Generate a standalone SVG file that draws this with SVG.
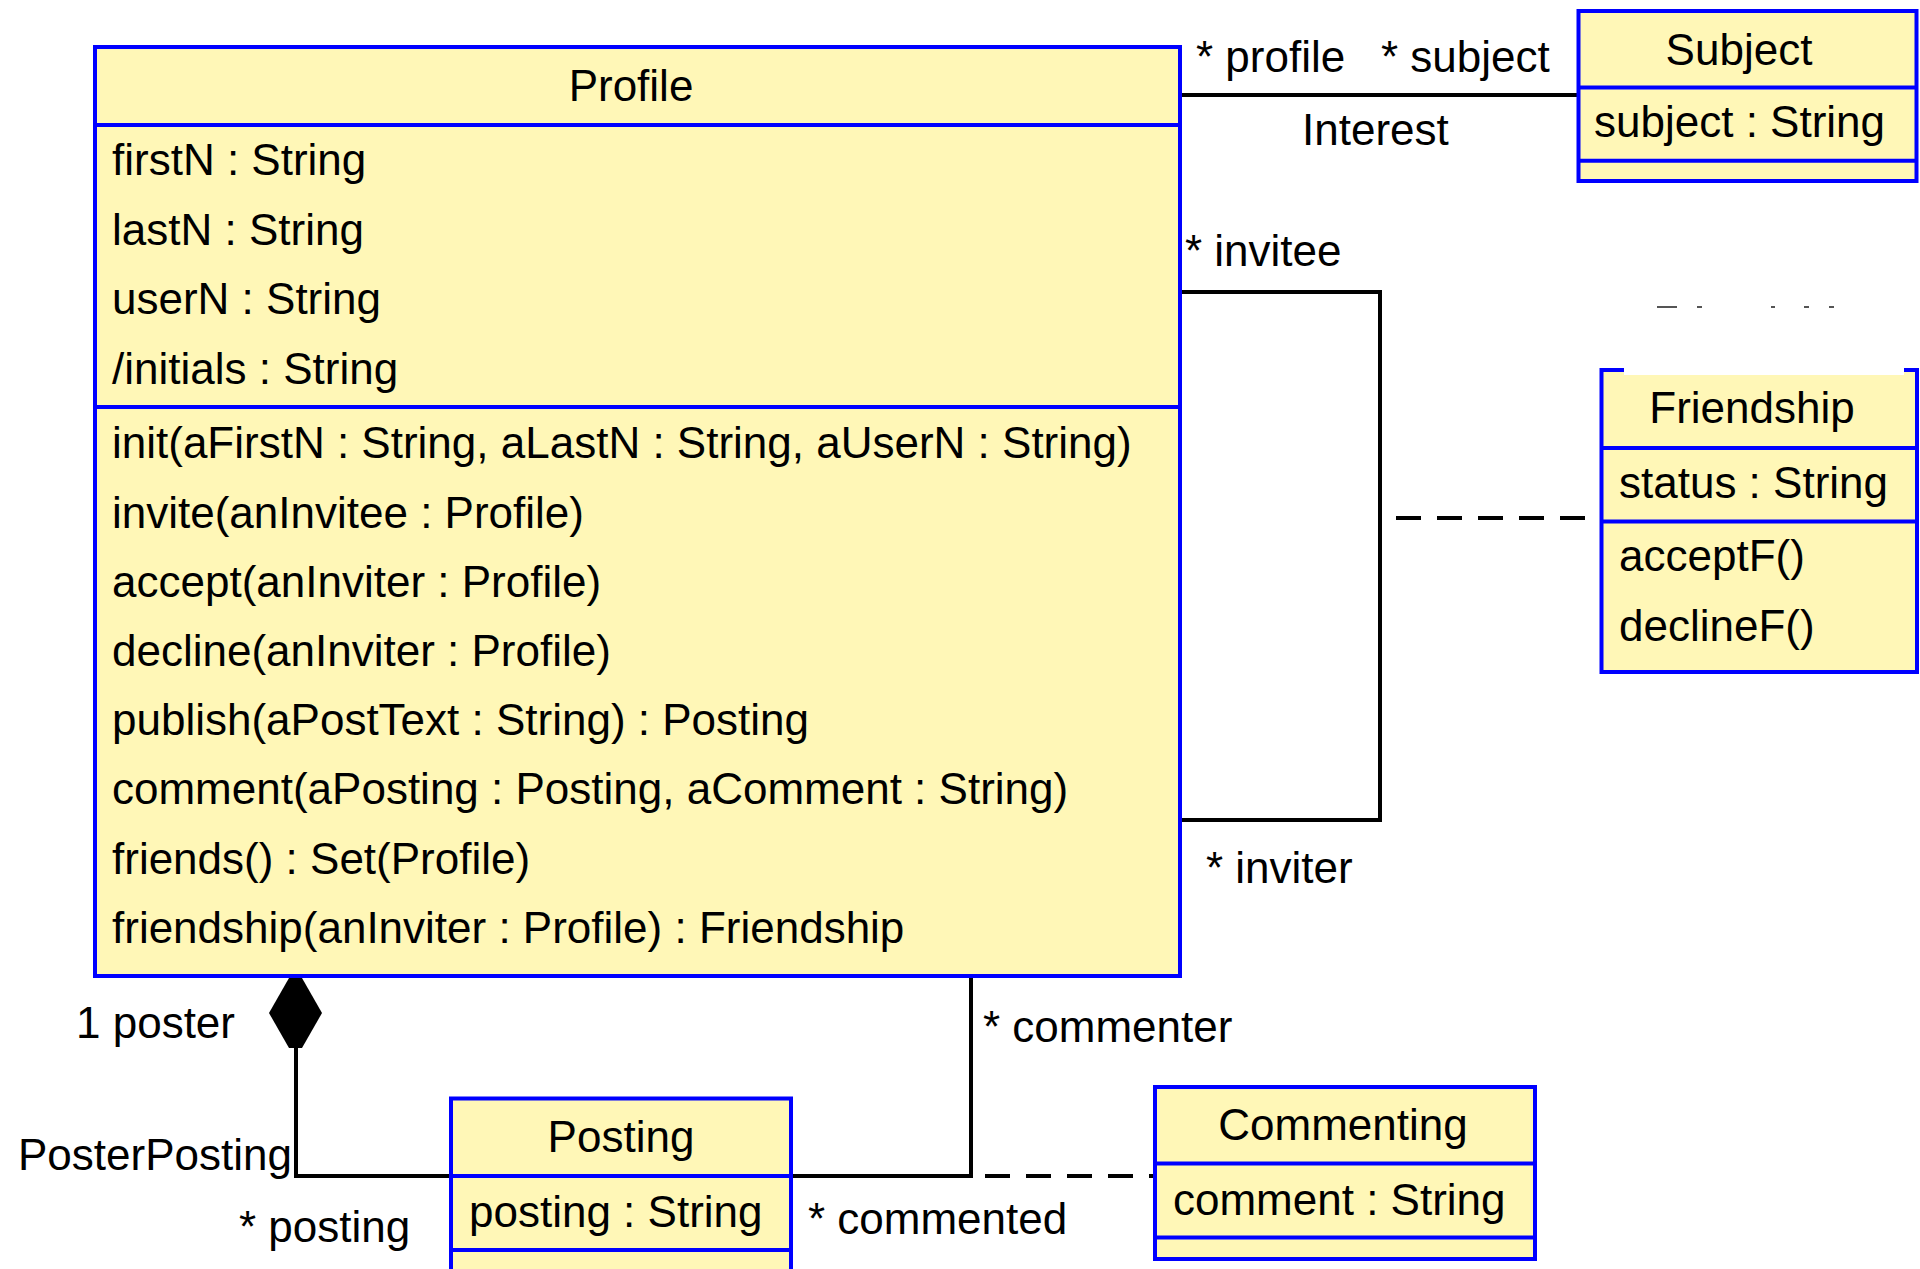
<svg xmlns="http://www.w3.org/2000/svg" width="1920" height="1269" viewBox="0 0 1920 1269">
<style>
  .box { fill: #FFF7B7; stroke: #0000FF; stroke-width: 4; }
  .sep { stroke: #0000FF; stroke-width: 4; fill: none; }
  .t { font-family: "Liberation Sans", Arial, sans-serif; font-size: 44px; fill: #000; }
  .c { text-anchor: middle; }
  .ln { stroke: #000; stroke-width: 4; fill: none; }
  .dash { stroke: #000; stroke-width: 4; fill: none; stroke-dasharray: 25 16; }
</style>
<rect x="0" y="0" width="1920" height="1269" fill="#FFFFFF"/>

<g id="connectors">
  <!-- Interest association -->
  <line class="ln" x1="1182" y1="95" x2="1577" y2="95"/>
  <!-- Friendship self association -->
  <polyline class="ln" points="1182,292 1380,292 1380,820 1182,820"/>
  <!-- Friendship association class link -->
  <line class="dash" x1="1396" y1="518" x2="1600" y2="518"/>
  <!-- PosterPosting composition -->
  <polygon points="289,978 302,978 322,1013 302,1048 289,1048 269,1013" fill="#000"/>
  <polyline class="ln" points="296,1046 296,1176 451,1176"/>
  <!-- Commenting association -->
  <polyline class="ln" points="791,1176 971,1176 971,978"/>
  <line class="dash" x1="985" y1="1176" x2="1153" y2="1176"/>
  <!-- faint marks -->
  <path d="M1657,307 H1677 M1697,307 H1702 M1771,307 H1775 M1804,307 H1809 M1829,307 H1834" stroke="#555" stroke-width="2" fill="none"/>
  <!-- labels -->
  <text class="t" x="1196" y="72">* profile</text>
  <text class="t" x="1381" y="72">* subject</text>
  <text class="t" x="1302" y="145">Interest</text>
  <text class="t" x="1185" y="266">* invitee</text>
  <text class="t" x="1206" y="883">* inviter</text>
  <text class="t" x="76" y="1038">1 poster</text>
  <text class="t" x="983" y="1042">* commenter</text>
  <text class="t" x="18" y="1170">PosterPosting</text>
  <text class="t" x="239" y="1242">* posting</text>
  <text class="t" x="808" y="1234">* commented</text>
</g>

<g id="Profile">
  <rect class="box" x="95" y="47" width="1085" height="929"/>
  <line class="sep" x1="95" y1="125" x2="1180" y2="125"/>
  <line class="sep" x1="95" y1="407" x2="1180" y2="407"/>
  <text class="t c" x="631" y="101">Profile</text>
  <text class="t" x="112" y="175">firstN : String</text>
  <text class="t" x="112" y="245">lastN : String</text>
  <text class="t" x="112" y="314">userN : String</text>
  <text class="t" x="112" y="384">/initials : String</text>
  <text class="t" x="112" y="458">init(aFirstN : String, aLastN : String, aUserN : String)</text>
  <text class="t" x="112" y="528">invite(anInvitee : Profile)</text>
  <text class="t" x="112" y="597">accept(anInviter : Profile)</text>
  <text class="t" x="112" y="666">decline(anInviter : Profile)</text>
  <text class="t" x="112" y="735">publish(aPostText : String) : Posting</text>
  <text class="t" x="112" y="804">comment(aPosting : Posting, aComment : String)</text>
  <text class="t" x="112" y="874">friends() : Set(Profile)</text>
  <text class="t" x="112" y="943">friendship(anInviter : Profile) : Friendship</text>
</g>

<g id="Subject">
  <rect class="box" x="1578.5" y="11" width="338" height="170"/>
  <line class="sep" x1="1578.5" y1="87.5" x2="1916.5" y2="87.5"/>
  <line class="sep" x1="1578.5" y1="160.7" x2="1916.5" y2="160.7"/>
  <text class="t c" x="1739" y="65">Subject</text>
  <text class="t" x="1594" y="137">subject : String</text>
</g>

<g id="Friendship">
  <rect class="box" x="1601.5" y="370" width="315.5" height="302"/>
  <rect x="1624" y="368" width="280" height="7" fill="#FFFFFF"/>
  <line class="sep" x1="1601.5" y1="448" x2="1917" y2="448"/>
  <line class="sep" x1="1601.5" y1="521.4" x2="1917" y2="521.4"/>
  <text class="t c" x="1752" y="423">Friendship</text>
  <text class="t" x="1619" y="498">status : String</text>
  <text class="t" x="1619" y="571">acceptF()</text>
  <text class="t" x="1619" y="641">declineF()</text>
</g>

<g id="Posting">
  <rect class="box" x="451" y="1098.5" width="340" height="200"/>
  <line class="sep" x1="451" y1="1176" x2="791" y2="1176"/>
  <line class="sep" x1="451" y1="1250" x2="791" y2="1250"/>
  <text class="t c" x="621" y="1152">Posting</text>
  <text class="t" x="469" y="1227">posting : String</text>
</g>

<g id="Commenting">
  <rect class="box" x="1155" y="1087" width="380" height="172"/>
  <line class="sep" x1="1155" y1="1163.5" x2="1535" y2="1163.5"/>
  <line class="sep" x1="1155" y1="1237.5" x2="1535" y2="1237.5"/>
  <text class="t c" x="1343" y="1140">Commenting</text>
  <text class="t" x="1173" y="1215">comment : String</text>
</g>
</svg>
